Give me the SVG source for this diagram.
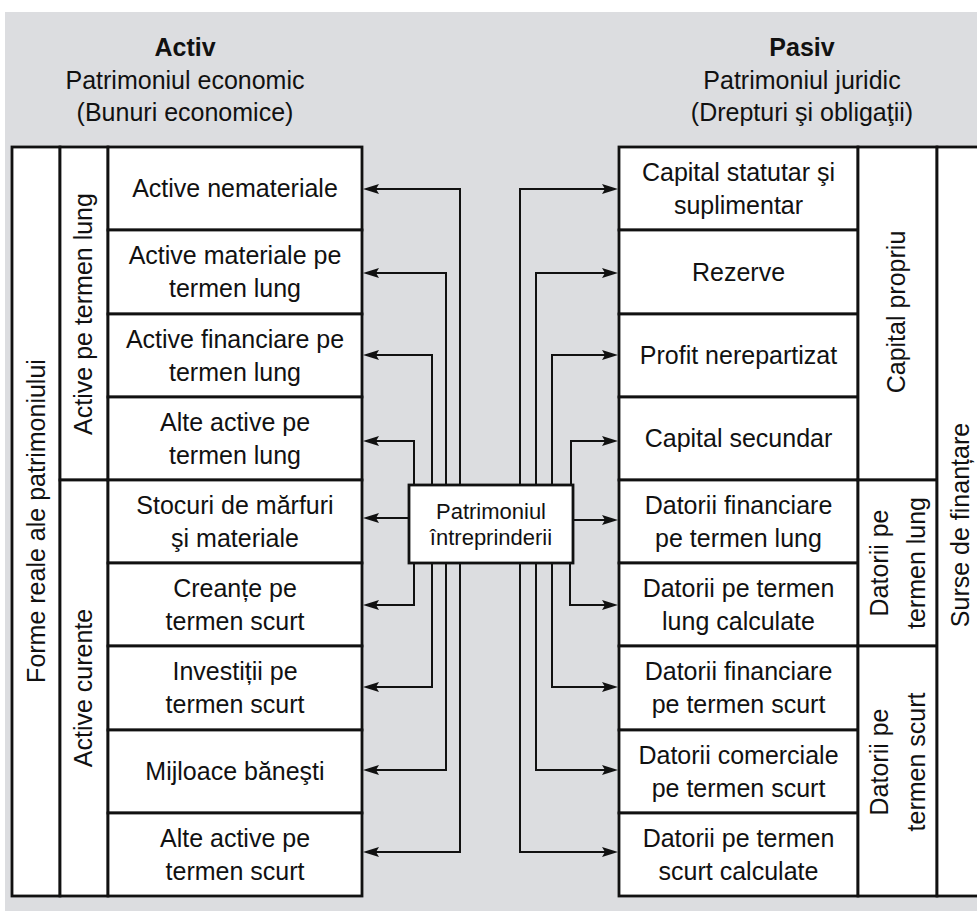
<svg xmlns="http://www.w3.org/2000/svg" width="977" height="911" viewBox="0 0 977 911">
  <defs>
    <marker id="ah" viewBox="0 0 16 11" refX="8" refY="5.5" markerWidth="16" markerHeight="11" orient="auto" markerUnits="userSpaceOnUse">
      <path d="M0,0.5 L16,5.5 L0,10.5 L3,5.5 z" fill="#111"/>
    </marker>
    <style>
      .cell { fill:#fff; stroke:#111; stroke-width:2.8; }
      .t { font-family:"Liberation Sans", Arial, sans-serif; font-size:25px; fill:#111; text-anchor:middle; }
      .b { font-weight:bold; }
      .s { font-size:22px; }
      .conn { fill:none; stroke:#111; stroke-width:2; marker-end:url(#ah); }
    </style>
  </defs>

  <!-- backdrop -->
  <rect x="5" y="12" width="972" height="899" fill="#dcdde0"/>

  <!-- headers -->
  <g id="activ-header">
    <text class="t b" x="185" y="56">Activ</text>
    <text class="t" x="185" y="89">Patrimoniul economic</text>
    <text class="t" x="185" y="121">(Bunuri economice)</text>
  </g>
  <g id="pasiv-header">
    <text class="t b" x="802" y="56">Pasiv</text>
    <text class="t" x="802" y="89">Patrimoniul juridic</text>
    <text class="t" x="802" y="121">(Drepturi şi obligaţii)</text>
  </g>

  <!-- left side: asset groups -->
  <g id="forme-reale">
    <rect class="cell" x="12" y="147" width="48" height="749"/>
    <text class="t" transform="translate(45,521) rotate(-90)">Forme reale ale patrimoniului</text>
  </g>
  <g id="active-termen-lung">
    <rect class="cell" x="60" y="147" width="48" height="333"/>
    <text class="t" transform="translate(92,314) rotate(-90)">Active pe termen lung</text>
  </g>
  <g id="active-curente">
    <rect class="cell" x="60" y="480" width="48" height="416"/>
    <text class="t" transform="translate(92,688) rotate(-90)">Active curente</text>
  </g>

  <!-- left side: asset items -->
  <g id="active-nemateriale">
    <rect class="cell" x="108" y="147" width="254" height="83"/>
    <text class="t" x="235" y="197">Active nemateriale</text>
  </g>
  <g id="active-materiale">
    <rect class="cell" x="108" y="230" width="254" height="84"/>
    <text class="t" x="235" y="264">Active materiale pe</text>
    <text class="t" x="235" y="297">termen lung</text>
  </g>
  <g id="active-financiare">
    <rect class="cell" x="108" y="314" width="254" height="83"/>
    <text class="t" x="235" y="348">Active financiare pe</text>
    <text class="t" x="235" y="381">termen lung</text>
  </g>
  <g id="alte-active-lung">
    <rect class="cell" x="108" y="397" width="254" height="83"/>
    <text class="t" x="235" y="431">Alte active pe</text>
    <text class="t" x="235" y="464">termen lung</text>
  </g>
  <g id="stocuri">
    <rect class="cell" x="108" y="480" width="254" height="83"/>
    <text class="t" x="235" y="514">Stocuri de mărfuri</text>
    <text class="t" x="235" y="547">şi materiale</text>
  </g>
  <g id="creante">
    <rect class="cell" x="108" y="563" width="254" height="83"/>
    <text class="t" x="235" y="597">Creanțe pe</text>
    <text class="t" x="235" y="630">termen scurt</text>
  </g>
  <g id="investitii">
    <rect class="cell" x="108" y="646" width="254" height="84"/>
    <text class="t" x="235" y="680">Investiții pe</text>
    <text class="t" x="235" y="713">termen scurt</text>
  </g>
  <g id="mijloace-banesti">
    <rect class="cell" x="108" y="730" width="254" height="83"/>
    <text class="t" x="235" y="780">Mijloace băneşti</text>
  </g>
  <g id="alte-active-scurt">
    <rect class="cell" x="108" y="813" width="254" height="83"/>
    <text class="t" x="235" y="847">Alte active pe</text>
    <text class="t" x="235" y="880">termen scurt</text>
  </g>

  <!-- right side: liability items -->
  <g id="capital-statutar">
    <rect class="cell" x="619" y="147" width="239" height="83"/>
    <text class="t" x="738.5" y="181">Capital statutar şi</text>
    <text class="t" x="738.5" y="214">suplimentar</text>
  </g>
  <g id="rezerve">
    <rect class="cell" x="619" y="230" width="239" height="84"/>
    <text class="t" x="738.5" y="281">Rezerve</text>
  </g>
  <g id="profit-nerepartizat">
    <rect class="cell" x="619" y="314" width="239" height="83"/>
    <text class="t" x="738.5" y="364">Profit nerepartizat</text>
  </g>
  <g id="capital-secundar">
    <rect class="cell" x="619" y="397" width="239" height="83"/>
    <text class="t" x="738.5" y="447">Capital secundar</text>
  </g>
  <g id="datorii-financiare-lung">
    <rect class="cell" x="619" y="480" width="239" height="83"/>
    <text class="t" x="738.5" y="514">Datorii financiare</text>
    <text class="t" x="738.5" y="547">pe termen lung</text>
  </g>
  <g id="datorii-calculate-lung">
    <rect class="cell" x="619" y="563" width="239" height="83"/>
    <text class="t" x="738.5" y="597">Datorii pe termen</text>
    <text class="t" x="738.5" y="630">lung calculate</text>
  </g>
  <g id="datorii-financiare-scurt">
    <rect class="cell" x="619" y="646" width="239" height="84"/>
    <text class="t" x="738.5" y="680">Datorii financiare</text>
    <text class="t" x="738.5" y="713">pe termen scurt</text>
  </g>
  <g id="datorii-comerciale-scurt">
    <rect class="cell" x="619" y="730" width="239" height="83"/>
    <text class="t" x="738.5" y="764">Datorii comerciale</text>
    <text class="t" x="738.5" y="797">pe termen scurt</text>
  </g>
  <g id="datorii-calculate-scurt">
    <rect class="cell" x="619" y="813" width="239" height="83"/>
    <text class="t" x="738.5" y="847">Datorii pe termen</text>
    <text class="t" x="738.5" y="880">scurt calculate</text>
  </g>

  <!-- right side: liability groups -->
  <g id="capital-propriu">
    <rect class="cell" x="858" y="147" width="79" height="333"/>
    <text class="t" transform="translate(905,312) rotate(-90)">Capital propriu</text>
  </g>
  <g id="datorii-lung">
    <rect class="cell" x="858" y="480" width="79" height="166"/>
    <text class="t" transform="translate(888,563) rotate(-90)">Datorii pe</text>
    <text class="t" transform="translate(925,563) rotate(-90)">termen lung</text>
  </g>
  <g id="datorii-scurt">
    <rect class="cell" x="858" y="646" width="79" height="250"/>
    <text class="t" transform="translate(888,762) rotate(-90)">Datorii pe</text>
    <text class="t" transform="translate(925,762) rotate(-90)">termen scurt</text>
  </g>
  <g id="surse-finantare">
    <rect class="cell" x="937" y="147" width="50" height="749"/>
    <text class="t" transform="translate(969,525) rotate(-90)">Surse de finanțare</text>
  </g>

  <!-- connectors from the central node to every item -->
  <g id="connectors">
    <path class="conn" d="M460,485 V189 H371"/>
    <path class="conn" d="M446,485 V273 H371"/>
    <path class="conn" d="M432,485 V355 H371"/>
    <path class="conn" d="M414,485 V441 H371"/>
    <path class="conn" d="M409,518 H371"/>
    <path class="conn" d="M414,563 V605 H371"/>
    <path class="conn" d="M432,563 V687 H371"/>
    <path class="conn" d="M446,563 V770 H371"/>
    <path class="conn" d="M460,563 V852 H371"/>

    <path class="conn" d="M520,485 V189 H610"/>
    <path class="conn" d="M536,485 V273 H610"/>
    <path class="conn" d="M552,485 V355 H610"/>
    <path class="conn" d="M571,485 V441 H610"/>
    <path class="conn" d="M573,520 H610"/>
    <path class="conn" d="M570,563 V605 H610"/>
    <path class="conn" d="M552,563 V687 H610"/>
    <path class="conn" d="M536,563 V770 H610"/>
    <path class="conn" d="M520,563 V852 H610"/>
  </g>

  <!-- central node -->
  <g id="patrimoniul-intreprinderii">
    <rect class="cell" x="409" y="485" width="164" height="78"/>
    <text class="t s" x="491" y="519">Patrimoniul</text>
    <text class="t s" x="491" y="545">întreprinderii</text>
  </g>
</svg>
